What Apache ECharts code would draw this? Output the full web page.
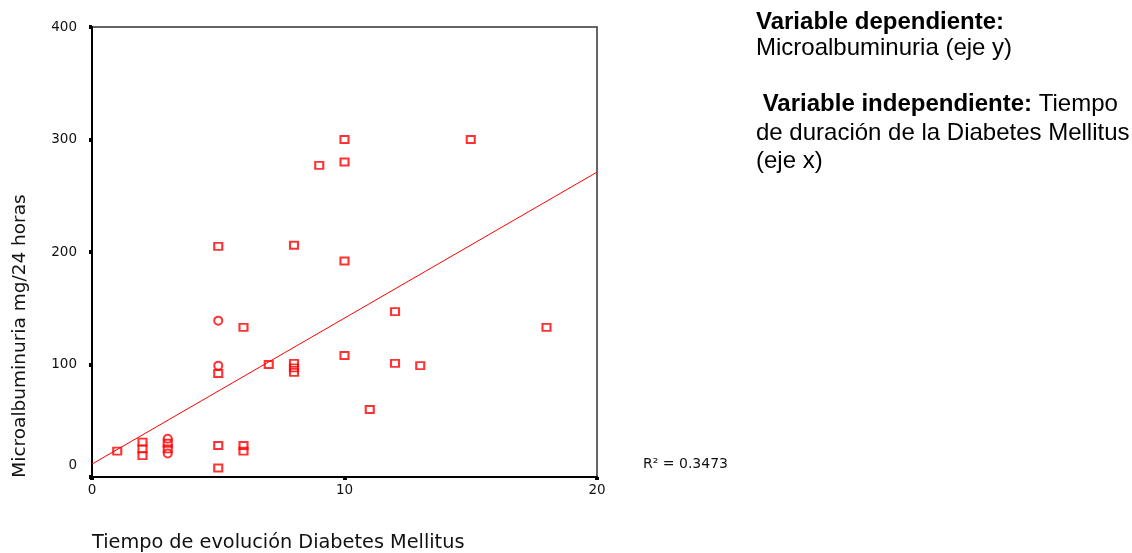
<!DOCTYPE html>
<html>
<head>
<meta charset="utf-8">
<script src="https://cdn.jsdelivr.net/npm/echarts@6/dist/echarts.min.js"></script>
<style>
html,body{margin:0;padding:0;background:#fff;}
#c{width:1132px;height:553px;}
</style>
</head>
<body>
<div id="c"></div>
<script>
// Data
const squareX = [10, 15, 9, 10, 5, 8, 10, 6, 12, 18, 5, 7, 8, 8, 8, 10, 12, 13, 11, 1, 2, 2, 2, 3, 3, 5, 5, 6, 6];
const squareY = [300, 300, 277, 280, 205, 206, 192, 133, 147, 133, 92, 100, 101, 97, 93, 108, 101, 99, 60, 23, 31, 25, 19, 30, 25, 28, 8, 28, 23];
const circleX = [5, 5, 3, 3];
const circleY = [139, 99, 34, 21];
const fitX = [0, 20];
const fitY = [11.5, 271];
const xTicks = [0, 10, 20];
const yTicks = [0, 100, 200, 300, 400];
const xTitle = 'Tiempo de evolución Diabetes Mellitus';
const yTitle = 'Microalbuminuria mg/24 horas';
const r2Text = 'R² = 0.3473';

const pair = (xs, ys) => xs.map((x, i) => [x, ys[i]]);
const chart = echarts.init(document.getElementById('c'), null, {renderer: 'canvas'});
const tickFont = {fontFamily: 'DejaVu Sans', fontSize: 13.5, color: '#111'};
const red = '#ff0000';

chart.setOption({
  animation: false,
  backgroundColor: '#fff',
  grid: {left: 92, top: 27, right: 535, bottom: 76, show: true, borderColor: '#333', borderWidth: 1.5, backgroundColor: 'transparent'},
  xAxis: {
    type: 'value', min: xTicks[0], max: xTicks[xTicks.length - 1], interval: 10,
    splitLine: {show: false},
    axisLine: {show: true, onZero: false, lineStyle: {color: '#000', width: 2}},
    axisTick: {show: true, length: 3, lineStyle: {color: '#000', width: 4}},
    axisLabel: Object.assign({margin: 6}, tickFont)
  },
  yAxis: {
    type: 'value', min: yTicks[0], max: yTicks[yTicks.length - 1], interval: 100,
    splitLine: {show: false},
    axisLine: {show: true, onZero: false, lineStyle: {color: '#000', width: 2}},
    axisTick: {show: true, length: 3, lineStyle: {color: '#000', width: 4}},
    axisLabel: Object.assign({
      margin: 15,
      formatter: v => v === 0 ? '{z|0}' : String(v),
      rich: {z: {fontFamily: 'DejaVu Sans', fontSize: 13.5, color: '#111', padding: [0, 0, 24, 0]}}
    }, tickFont)
  },
  series: [
    {
      type: 'line', data: pair(fitX, fitY), showSymbol: false, symbol: 'none',
      lineStyle: {color: red, width: 1}, silent: true, z: 2
    },
    {
      type: 'scatter', data: pair(squareX, squareY), symbol: 'rect', symbolSize: [8, 7],
      itemStyle: {color: 'rgba(255,255,255,0)', borderColor: red, borderWidth: 2}, z: 3
    },
    {
      type: 'scatter', data: pair(circleX, circleY), symbol: 'circle', symbolSize: 8,
      itemStyle: {color: 'rgba(255,255,255,0)', borderColor: red, borderWidth: 2}, z: 3
    }
  ],
  graphic: [
    {type: 'text', x: 20, y: 336, rotation: Math.PI / 2,
     style: {text: yTitle, fontFamily: 'DejaVu Sans', fontSize: 18.5, fill: '#111', textAlign: 'center', textVerticalAlign: 'middle'}},
    {type: 'text', x: 92, y: 543,
     style: {text: xTitle, fontFamily: 'DejaVu Sans', fontSize: 19.3, fill: '#111', textAlign: 'left', textVerticalAlign: 'middle'}},
    {type: 'text', x: 643, y: 464,
     style: {text: r2Text, fontFamily: 'DejaVu Sans', fontSize: 14, fill: '#111', textAlign: 'left', textVerticalAlign: 'middle'}},
    {type: 'text', x: 756, y: 22,
     style: {text: 'Variable dependiente:', fontFamily: 'Liberation Sans', fontWeight: 'bold', fontSize: 24, fill: '#000', textVerticalAlign: 'middle'}},
    {type: 'text', x: 756, y: 48,
     style: {text: 'Microalbuminuria (eje y)', fontFamily: 'Liberation Sans', fontSize: 24, fill: '#000', textVerticalAlign: 'middle'}},
    {type: 'text', x: 756, y: 104,
     style: {text: ' {b|Variable independiente:} Tiempo', fontFamily: 'Liberation Sans', fontSize: 24, fill: '#000', textVerticalAlign: 'middle',
             rich: {b: {fontFamily: 'Liberation Sans', fontWeight: 'bold', fontSize: 24, fill: '#000'}}}},
    {type: 'text', x: 756, y: 133,
     style: {text: 'de duración de la Diabetes Mellitus', fontFamily: 'Liberation Sans', fontSize: 24, fill: '#000', textVerticalAlign: 'middle'}},
    {type: 'text', x: 756, y: 161,
     style: {text: '(eje x)', fontFamily: 'Liberation Sans', fontSize: 24, fill: '#000', textVerticalAlign: 'middle'}}
  ]
});
</script>
</body>
</html>
